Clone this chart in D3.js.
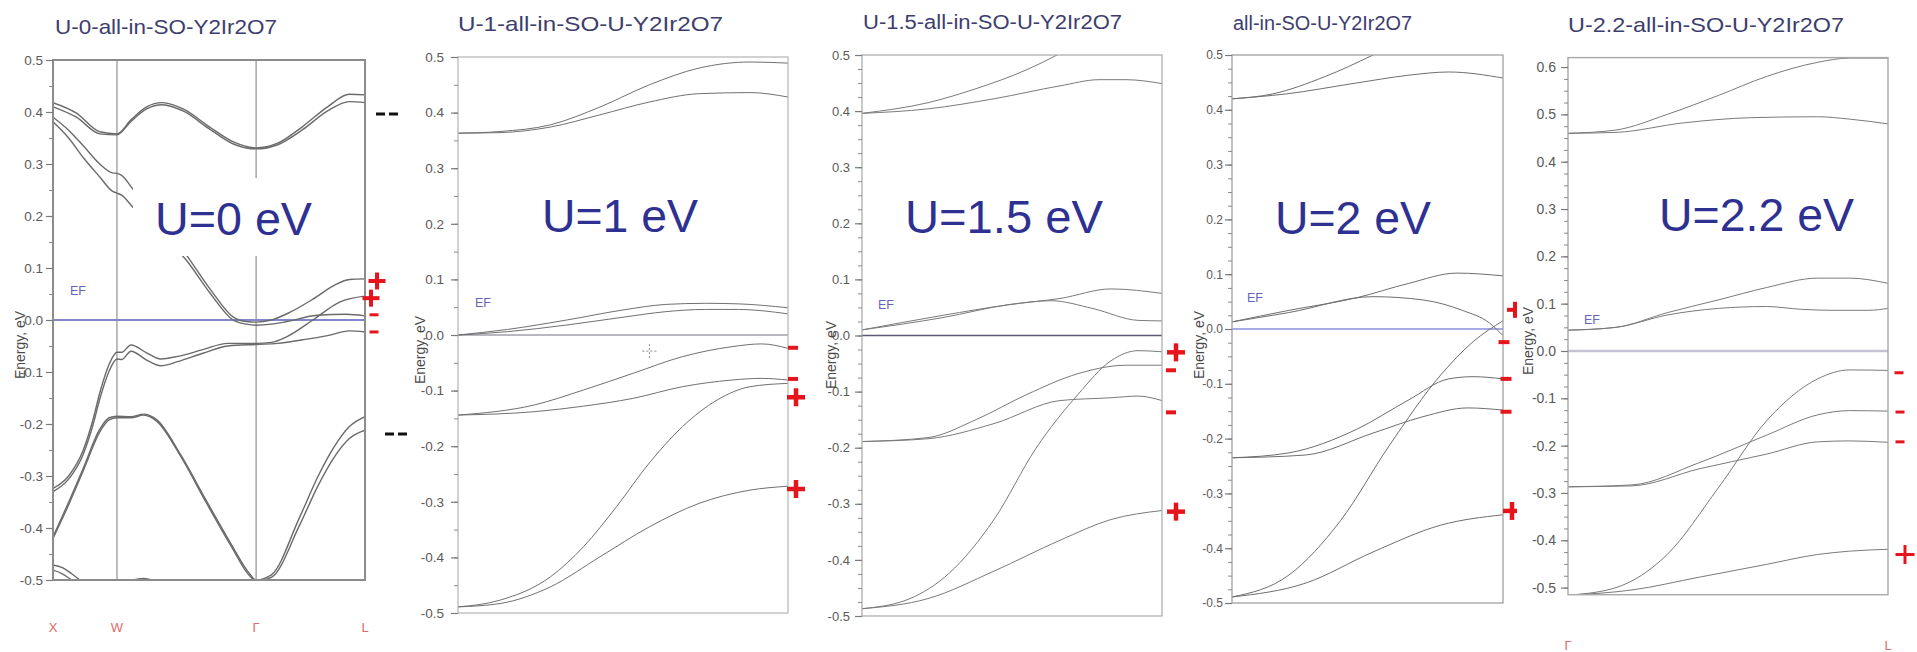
<!DOCTYPE html>
<html><head><meta charset="utf-8">
<script src="https://cdn.jsdelivr.net/npm/d3@7"></script>
<style>
html,body{margin:0;padding:0;background:#fff;}
svg{display:block;}
text{font-family:"Liberation Sans", Arial, sans-serif;}
</style></head><body>
<svg id="chart" width="1917" height="652"></svg>
<script>
// ---- Panel titles and U annotations ----
const titles = ["U-0-all-in-SO-Y2Ir2O7", "U-1-all-in-SO-U-Y2Ir2O7", "U-1.5-all-in-SO-U-Y2Ir2O7", "all-in-SO-U-Y2Ir2O7", "U-2.2-all-in-SO-U-Y2Ir2O7"];
const uLabels = ["U=0 eV", "U=1 eV", "U=1.5 eV", "U=2 eV", "U=2.2 eV"];

// ---- k-path labels ----
const kNamesFull = ["X", "W", "Γ", "L"];
const kStopsFull = [0, 0.205, 0.651, 1];
const kNamesShort = ["Γ", "L"];
const kStopsShort = [0, 1];

// ---- Energy ticks (eV) ----
const ticksStd = [0.5, 0.4, 0.3, 0.2, 0.1, 0.0, -0.1, -0.2, -0.3, -0.4, -0.5];
const ticksWide = [0.6, 0.5, 0.4, 0.3, 0.2, 0.1, 0.0, -0.1, -0.2, -0.3, -0.4, -0.5];

// ---- Bands: [k fraction along path, energy eV] ----
const bandsU0 = [
  [[0,0.418],[0.075,0.398],[0.15,0.362],[0.205,0.358],[0.25,0.385],[0.3,0.41],[0.35,0.418],[0.42,0.405],[0.5,0.372],[0.58,0.342],[0.651,0.331],[0.72,0.34],[0.8,0.372],[0.88,0.41],[0.95,0.434],[1,0.433]],
  [[0,0.41],[0.075,0.39],[0.15,0.358],[0.205,0.356],[0.25,0.382],[0.3,0.406],[0.35,0.414],[0.42,0.401],[0.5,0.368],[0.58,0.338],[0.651,0.329],[0.72,0.337],[0.8,0.366],[0.88,0.402],[0.95,0.42],[1,0.418]],
  [[0,0.39],[0.05,0.365],[0.1,0.333],[0.15,0.3],[0.19,0.283],[0.205,0.282],[0.22,0.278],[0.256,0.252],[0.34,0.195],[0.43,0.123],[0.503,0.06],[0.577,0.006],[0.62,-0.003],[0.651,-0.004],[0.7,0.0],[0.76,0.015],[0.833,0.04],[0.9,0.066],[0.95,0.078],[1,0.079]],
  [[0,0.381],[0.05,0.35],[0.1,0.31],[0.15,0.275],[0.19,0.248],[0.205,0.244],[0.22,0.24],[0.256,0.217],[0.34,0.17],[0.43,0.113],[0.503,0.052],[0.577,0.0],[0.62,-0.008],[0.651,-0.01],[0.7,-0.008],[0.75,-0.003],[0.846,0.009],[0.94,0.011],[1,0.008]],
  [[0,-0.324],[0.05,-0.3],[0.097,-0.25],[0.129,-0.19],[0.15,-0.14],[0.18,-0.085],[0.205,-0.062],[0.22,-0.062],[0.25,-0.048],[0.3,-0.063],[0.345,-0.075],[0.4,-0.07],[0.48,-0.057],[0.56,-0.045],[0.651,-0.045],[0.7,-0.043],[0.75,-0.032],[0.833,0.0],[0.92,0.035],[1,0.046]],
  [[0,-0.33],[0.05,-0.306],[0.097,-0.258],[0.129,-0.2],[0.15,-0.152],[0.18,-0.098],[0.205,-0.075],[0.22,-0.076],[0.25,-0.06],[0.3,-0.077],[0.345,-0.088],[0.4,-0.08],[0.48,-0.064],[0.56,-0.05],[0.651,-0.047],[0.72,-0.045],[0.8,-0.038],[0.88,-0.03],[0.95,-0.021],[1,-0.023]],
  [[0,-0.417],[0.043,-0.36],[0.097,-0.285],[0.15,-0.21],[0.18,-0.188],[0.205,-0.185],[0.25,-0.186],[0.29,-0.181],[0.333,-0.192],[0.41,-0.26],[0.49,-0.346],[0.57,-0.43],[0.63,-0.488],[0.651,-0.5],[0.7,-0.49],[0.79,-0.38],[0.85,-0.3],[0.9,-0.245],[0.95,-0.205],[1,-0.186]],
  [[0,-0.42],[0.043,-0.365],[0.097,-0.29],[0.15,-0.215],[0.18,-0.192],[0.205,-0.188],[0.25,-0.188],[0.29,-0.183],[0.333,-0.195],[0.41,-0.263],[0.49,-0.35],[0.57,-0.434],[0.63,-0.492],[0.651,-0.502],[0.7,-0.495],[0.79,-0.395],[0.85,-0.318],[0.9,-0.265],[0.95,-0.228],[1,-0.212]],
  [[0,-0.471],[0.03,-0.476],[0.06,-0.488],[0.09,-0.502]],
  [[0,-0.481],[0.03,-0.488],[0.06,-0.5],[0.08,-0.506]],
  [[0.24,-0.503],[0.29,-0.497],[0.33,-0.503]]
];
const bandsU1 = [
  [[0,0.363],[0.127,0.366],[0.28,0.378],[0.43,0.41],[0.58,0.45],[0.73,0.48],[0.885,0.491],[1,0.489]],
  [[0,0.363],[0.127,0.364],[0.28,0.374],[0.43,0.396],[0.58,0.419],[0.73,0.434],[0.885,0.436],[1,0.428]],
  [[0,0.0],[0.15,0.01],[0.33,0.027],[0.5,0.045],[0.63,0.055],[0.75,0.057],[0.85,0.056],[1,0.049]],
  [[0,0.0],[0.15,0.006],[0.33,0.018],[0.5,0.032],[0.63,0.042],[0.75,0.046],[0.85,0.046],[1,0.038]],
  [[0,-0.144],[0.23,-0.126],[0.38,-0.099],[0.53,-0.069],[0.68,-0.039],[0.83,-0.021],[0.92,-0.016],[1,-0.024]],
  [[0,-0.144],[0.23,-0.138],[0.38,-0.128],[0.53,-0.114],[0.68,-0.093],[0.83,-0.081],[0.92,-0.078],[1,-0.081]],
  [[0,-0.489],[0.127,-0.477],[0.28,-0.435],[0.38,-0.381],[0.48,-0.309],[0.58,-0.23],[0.68,-0.165],[0.785,-0.117],[0.885,-0.093],[1,-0.087]],
  [[0,-0.489],[0.127,-0.483],[0.28,-0.453],[0.43,-0.399],[0.58,-0.345],[0.73,-0.303],[0.885,-0.279],[1,-0.272]]
];
const bandsU15 = [
  [[0,0.396],[0.22,0.415],[0.38,0.44],[0.55,0.474],[0.65,0.5],[0.7,0.515]],
  [[0,0.396],[0.22,0.404],[0.44,0.422],[0.66,0.445],[0.79,0.456],[0.88,0.456],[1,0.449]],
  [[0,0.01],[0.27,0.036],[0.49,0.055],[0.66,0.066],[0.83,0.083],[1,0.075]],
  [[0,0.01],[0.27,0.032],[0.49,0.055],[0.63,0.062],[0.77,0.048],[0.92,0.027],[1,0.026]],
  [[0,-0.189],[0.22,-0.182],[0.38,-0.15],[0.55,-0.105],[0.72,-0.068],[0.88,-0.053],[1,-0.053]],
  [[0,-0.189],[0.22,-0.184],[0.44,-0.157],[0.66,-0.116],[0.83,-0.111],[0.92,-0.108],[1,-0.116]],
  [[0,-0.487],[0.16,-0.469],[0.29,-0.424],[0.44,-0.328],[0.58,-0.201],[0.72,-0.105],[0.83,-0.045],[0.92,-0.027],[1,-0.029]],
  [[0,-0.487],[0.22,-0.469],[0.44,-0.42],[0.66,-0.365],[0.83,-0.328],[1,-0.312]]
];
const bandsU2 = [
  [[0,0.42],[0.15,0.429],[0.34,0.46],[0.52,0.5],[0.58,0.515]],
  [[0,0.42],[0.2,0.429],[0.46,0.449],[0.65,0.463],[0.8,0.469],[1,0.458]],
  [[0,0.013],[0.21,0.034],[0.46,0.057],[0.65,0.083],[0.83,0.102],[1,0.097]],
  [[0,0.013],[0.21,0.03],[0.52,0.059],[0.705,0.053],[0.85,0.034],[0.95,0.011],[1,-0.012]],
  [[0,-0.489],[0.21,-0.449],[0.4,-0.35],[0.58,-0.213],[0.77,-0.084],[0.89,-0.023],[1,0.015]],
  [[0,-0.235],[0.21,-0.226],[0.46,-0.183],[0.65,-0.13],[0.8,-0.091],[0.89,-0.087],[1,-0.091]],
  [[0,-0.235],[0.27,-0.23],[0.52,-0.19],[0.705,-0.16],[0.87,-0.144],[1,-0.148]],
  [[0,-0.489],[0.27,-0.464],[0.52,-0.407],[0.77,-0.358],[1,-0.339]]
];
const bandsU22 = [
  [[0,0.46],[0.15,0.467],[0.31,0.5],[0.47,0.54],[0.62,0.58],[0.78,0.61],[0.88,0.619],[1,0.619]],
  [[0,0.46],[0.15,0.462],[0.36,0.482],[0.57,0.493],[0.78,0.495],[0.88,0.49],[1,0.48]],
  [[0,0.044],[0.15,0.05],[0.31,0.081],[0.47,0.108],[0.62,0.134],[0.78,0.154],[0.88,0.154],[1,0.143]],
  [[0,0.044],[0.15,0.05],[0.31,0.076],[0.47,0.09],[0.62,0.094],[0.73,0.088],[0.83,0.086],[0.94,0.086],[1,0.09]],
  [[0,-0.516],[0.15,-0.5],[0.31,-0.43],[0.47,-0.289],[0.62,-0.148],[0.78,-0.059],[0.88,-0.04],[1,-0.041]],
  [[0,-0.287],[0.2,-0.283],[0.41,-0.236],[0.62,-0.178],[0.78,-0.135],[0.88,-0.126],[1,-0.127]],
  [[0,-0.287],[0.2,-0.285],[0.41,-0.249],[0.62,-0.218],[0.78,-0.192],[0.88,-0.19],[1,-0.193]],
  [[0,-0.516],[0.2,-0.505],[0.41,-0.478],[0.62,-0.451],[0.78,-0.43],[0.88,-0.423],[1,-0.419]]
];

// ---- Parity of states at L (energy eV, sign) ----
const parityU0 = [[0.075,"+"],[0.042,"+"],[0.01,"-"],[-0.023,"-"]];
const parityU1 = [[-0.023,"-"],[-0.079,"-"],[-0.112,"+"],[-0.277,"+"]];
const parityU15 = [[-0.03,"+"],[-0.062,"-"],[-0.137,"-"],[-0.314,"+"]];
const parityU2 = [[0.035,"+"],[-0.024,"-"],[-0.091,"-"],[-0.151,"-"],[-0.332,"+"]];
const parityU22 = [[-0.046,"-"],[-0.129,"-"],[-0.192,"-"],[-0.43,"+"]];
// black level marks beside the U=0 panel
const levelMarksU0 = [0.396, -0.219];

// ---- Layout / style per panel ----
const panels = [
  {bands: bandsU0, parity: parityU0, ticks: ticksStd, dom: [-0.5, 0.5],
   x0: 53, x1: 365, yTop: 60, yBot: 580, minorStep: 0.05,
   kNames: kNamesFull, kStops: kStopsFull, kLabelY: 632, kGrid: true,
   frame: {stroke: "#8c8c8c", w: 2}, band: {stroke: "#6a6a6a", w: 1.4},
   ef: {stroke: "#8585cc", w: 2}, efText: [70, 295],
   title: {x: 55, y: 34, len: 222, size: 21},
   u: {x: 155, y: 235, len: 157},
   ylab: [21, 345], tickSize: 13.5, tickGap: 10,
   box: [133, 178, 187, 78],
   marks: [{dx: 12, s: 17, t: 4}, {dx: 6, s: 17, t: 4}, {dx: 9, s: 9, t: 3}, {dx: 9, s: 9, t: 3}],
   clipMarksAt: null},
  {bands: bandsU1, parity: parityU1, ticks: ticksStd, dom: [-0.5, 0.5],
   x0: 458, x1: 788, yTop: 57, yBot: 613, minorStep: 0.05,
   kNames: null, frame: {stroke: "#b4b4b4", w: 1.2}, band: {stroke: "#707070", w: 1},
   ef: {stroke: "#a0a0a8", w: 1.3}, efText: [475, 307],
   title: {x: 458, y: 31, len: 265, size: 21},
   u: {x: 542, y: 232, len: 156},
   ylab: [421, 350], tickSize: 13.5, tickGap: 14,
   marks: [{dx: 5, s: 10, t: 4}, {dx: 5, s: 10, t: 4}, {dx: 8, s: 18, t: 4.5}, {dx: 8, s: 18, t: 4.5}],
   clipMarksAt: null},
  {bands: bandsU15, parity: parityU15, ticks: ticksStd, dom: [-0.5, 0.5],
   x0: 862, x1: 1162, yTop: 55, yBot: 616, minorStep: 0.025,
   kNames: null, frame: {stroke: "#a8a8a8", w: 1.2}, band: {stroke: "#7a7a7a", w: 1},
   ef: {stroke: "#5a5a70", w: 1.3}, efText: [878, 309],
   title: {x: 863, y: 29, len: 259, size: 20},
   u: {x: 905, y: 233, len: 198},
   ylab: [832, 355], tickSize: 13, tickGap: 12,
   marks: [{dx: 14, s: 18, t: 4.5}, {dx: 9, s: 10, t: 4}, {dx: 9, s: 10, t: 4}, {dx: 14, s: 18, t: 4.5}],
   clipMarksAt: null},
  {bands: bandsU2, parity: parityU2, ticks: ticksStd, dom: [-0.5, 0.5],
   x0: 1232, x1: 1503, yTop: 55, yBot: 603, minorStep: 0.025,
   kNames: null, frame: {stroke: "#a0a0a0", w: 1.3}, band: {stroke: "#6e6e6e", w: 1},
   ef: {stroke: "#8c8ce0", w: 1.5}, efText: [1247, 302],
   title: {x: 1233, y: 30, len: 179, size: 20},
   u: {x: 1275, y: 234, len: 156},
   ylab: [1200, 345], tickSize: 12, tickGap: 9,
   marks: [{dx: 12, s: 16, t: 4}, {dx: 1, s: 11, t: 4}, {dx: 3, s: 11, t: 4}, {dx: 3, s: 11, t: 4}, {dx: 9, s: 18, t: 4.5}],
   clipMarksAt: 1517},
  {bands: bandsU22, parity: parityU22, ticks: ticksWide, dom: [-0.515, 0.62],
   x0: 1568, x1: 1888, yTop: 57.6, yBot: 594.7, minorStep: 0.025,
   kNames: kNamesShort, kStops: kStopsShort, kLabelY: 650, kGrid: false,
   frame: {stroke: "#a8a8a8", w: 1.4}, band: {stroke: "#7a7a7a", w: 1},
   ef: {stroke: "#c4c4d6", w: 2.5}, efText: [1584, 324],
   title: {x: 1568, y: 32, len: 276, size: 21},
   u: {x: 1659, y: 231, len: 195},
   ylab: [1529, 341], tickSize: 14, tickGap: 12,
   marks: [{dx: 11, s: 9, t: 3}, {dx: 12, s: 9, t: 3}, {dx: 12, s: 9, t: 3}, {dx: 17, s: 19, t: 3}],
   clipMarksAt: null}
];

const svg = d3.select("#chart");
const defs = svg.append("defs");
const red = "#e6141c";
const fmt = v => (v < -1e-9 ? "-" : "") + Math.abs(v).toFixed(1);

panels.forEach((p, i) => {
  const x = d3.scaleLinear().domain([0, 1]).range([p.x0, p.x1]);
  const y = d3.scaleLinear().domain(p.dom).range([p.yBot, p.yTop]);
  const g = svg.append("g");

  const clipId = "plot-clip-" + i;
  defs.append("clipPath").attr("id", clipId)
    .append("rect").attr("x", p.x0).attr("y", p.yTop)
    .attr("width", p.x1 - p.x0).attr("height", p.yBot - p.yTop);

  // title
  g.append("text").attr("x", p.title.x).attr("y", p.title.y)
    .attr("font-size", p.title.size).attr("fill", "#3d3d6e")
    .attr("textLength", p.title.len).attr("lengthAdjust", "spacingAndGlyphs")
    .text(titles[i]);

  // high-symmetry verticals
  if (p.kNames && p.kGrid) {
    g.append("g").selectAll("line").data(p.kStops.slice(1, -1)).join("line")
      .attr("x1", d => x(d)).attr("x2", d => x(d))
      .attr("y1", p.yTop).attr("y2", p.yBot)
      .attr("stroke", "#9a9a9a").attr("stroke-width", 1.3);
  }

  // Fermi level
  g.append("line").attr("x1", p.x0).attr("x2", p.x1)
    .attr("y1", y(0)).attr("y2", y(0))
    .attr("stroke", p.ef.stroke).attr("stroke-width", p.ef.w);

  // bands
  const line = d3.line().x(d => x(d[0])).y(d => y(d[1])).curve(d3.curveMonotoneX);
  g.append("g").attr("clip-path", `url(#${clipId})`)
    .selectAll("path").data(p.bands).join("path")
    .attr("d", line).attr("fill", "none")
    .attr("stroke", p.band.stroke).attr("stroke-width", p.band.w);

  // frame
  g.append("rect").attr("x", p.x0).attr("y", p.yTop)
    .attr("width", p.x1 - p.x0).attr("height", p.yBot - p.yTop)
    .attr("fill", "none").attr("stroke", p.frame.stroke).attr("stroke-width", p.frame.w);

  // y axis: minor then major ticks
  const minor = d3.range(Math.ceil(p.dom[0] / p.minorStep - 1e-6), Math.floor(p.dom[1] / p.minorStep + 1e-6) + 1)
    .map(n => +(n * p.minorStep).toFixed(4));
  const gMinor = g.append("g").attr("transform", `translate(${p.x0},0)`)
    .call(d3.axisLeft(y).tickValues(minor).tickSize(4).tickFormat(""));
  gMinor.select(".domain").remove();
  gMinor.selectAll("line").attr("stroke", "#8a8a8a");
  const gMajor = g.append("g").attr("transform", `translate(${p.x0},0)`)
    .call(d3.axisLeft(y).tickValues(p.ticks).tickSize(7).tickPadding(p.tickGap - 7).tickFormat(fmt));
  gMajor.select(".domain").remove();
  gMajor.selectAll("line").attr("stroke", "#7a7a7a").attr("stroke-width", 1.2);
  gMajor.selectAll("text").attr("font-size", p.tickSize).attr("fill", "#5a5a5a")
    .attr("font-family", "'Liberation Sans', Arial, sans-serif");

  // axis title
  g.append("text").attr("transform", `translate(${p.ylab[0]},${p.ylab[1]}) rotate(-90)`)
    .attr("text-anchor", "middle").attr("dominant-baseline", "middle")
    .attr("font-size", 14).attr("fill", "#4a4a4a").text("Energy, eV");

  // EF tag
  g.append("text").attr("x", p.efText[0]).attr("y", p.efText[1])
    .attr("font-size", 12.5).attr("fill", "#6464c0").text("EF");

  // k labels
  if (p.kNames) {
    g.append("g").selectAll("text").data(p.kNames).join("text")
      .attr("x", (d, j) => x(p.kStops[j])).attr("y", p.kLabelY)
      .attr("text-anchor", "middle").attr("font-size", 13).attr("fill", "#e06a6a")
      .text(d => d);
  }

  // white panel behind the U annotation
  if (p.box) {
    g.append("rect").attr("x", p.box[0]).attr("y", p.box[1])
      .attr("width", p.box[2]).attr("height", p.box[3]).attr("fill", "#fff");
  }
  g.append("text").attr("x", p.u.x).attr("y", p.u.y)
    .attr("font-size", 47).attr("fill", "#2e3192")
    .attr("textLength", p.u.len).attr("lengthAdjust", "spacingAndGlyphs")
    .text(uLabels[i]);

  // parity marks at L
  let gm = g.append("g");
  if (p.clipMarksAt) {
    const mcId = "mark-clip-" + i;
    defs.append("clipPath").attr("id", mcId).append("rect")
      .attr("x", 0).attr("y", 0).attr("width", p.clipMarksAt).attr("height", 652);
    gm.attr("clip-path", `url(#${mcId})`);
  }
  p.parity.forEach((d, j) => {
    const m = p.marks[j];
    const cx = p.x1 + m.dx, cy = y(d[0]);
    gm.append("line").attr("x1", cx - m.s / 2).attr("x2", cx + m.s / 2)
      .attr("y1", cy).attr("y2", cy).attr("stroke", red).attr("stroke-width", m.t);
    if (d[1] === "+") {
      gm.append("line").attr("x1", cx).attr("x2", cx)
        .attr("y1", cy - m.s / 2).attr("y2", cy + m.s / 2)
        .attr("stroke", red).attr("stroke-width", m.t);
    }
  });

  if (i === 0) {
    g.append("g").selectAll("line").data(levelMarksU0).join("line")
      .attr("x1", (d, j) => p.x1 + 11 + j * 9).attr("x2", (d, j) => p.x1 + 33 + j * 9)
      .attr("y1", d => y(d)).attr("y2", d => y(d))
      .attr("stroke", "#111").attr("stroke-width", 3).attr("stroke-dasharray", "9,4");
  }
  if (i === 1) {
    // small cursor cross inside the U=1 panel
    const cx = x(0.58), cy = y(-0.029);
    g.append("path").attr("d", `M${cx - 7},${cy}H${cx + 7}M${cx},${cy - 7}V${cy + 7}`)
      .attr("stroke", "#8a8a8a").attr("stroke-width", 1).attr("stroke-dasharray", "2,2");
  }
});
</script>
</body></html>
